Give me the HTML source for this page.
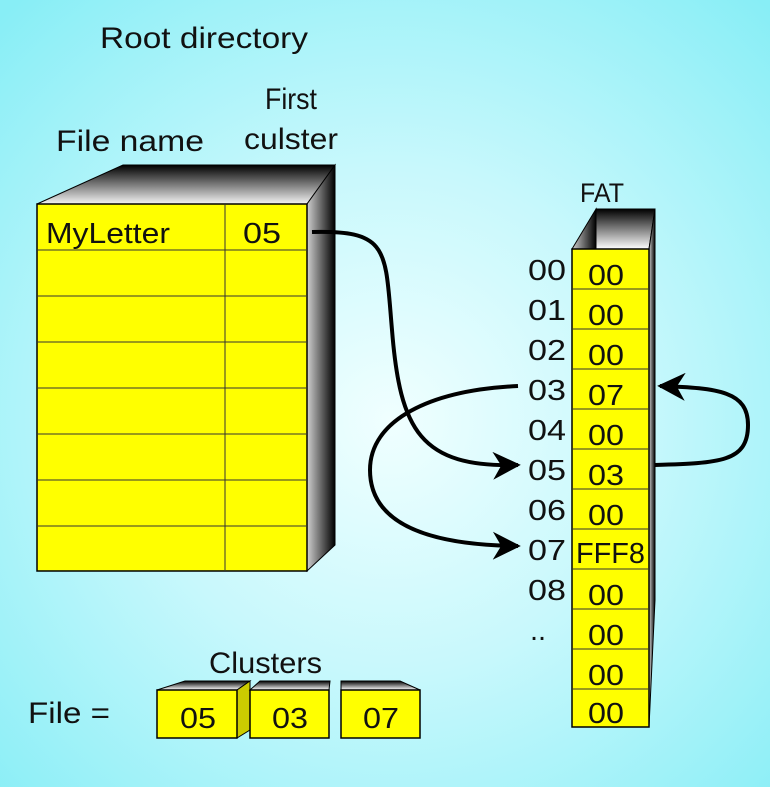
<!DOCTYPE html>
<html><head><style>
html,body{margin:0;padding:0}
body{width:770px;height:787px;overflow:hidden;background:radial-gradient(ellipse 560px 560px at 390px 420px,#f0ffff 0%,#c8f8fc 45%,#88eef6 100%);}
svg{display:block}
text{font-family:"Liberation Sans",sans-serif;fill:#111}
</style></head><body>
<svg width="770" height="787" viewBox="0 0 770 787">
<defs>
<linearGradient id="top" x1="0" y1="1" x2="0" y2="0"><stop offset="0" stop-color="#f4f4f4"/><stop offset="1" stop-color="#000"/></linearGradient>
<linearGradient id="side" x1="0" y1="0" x2="1" y2="0"><stop offset="0" stop-color="#cfcfcf"/><stop offset="1" stop-color="#000"/></linearGradient>
<linearGradient id="ftop" x1="0" y1="1" x2="0" y2="0"><stop offset="0" stop-color="#fff"/><stop offset="1" stop-color="#000"/></linearGradient>
<marker id="ah" viewBox="0 0 10 10" refX="9" refY="5" markerWidth="7" markerHeight="7" orient="auto"><path d="M0,0 L10,5 L0,10 L3,5z" fill="#000"/></marker>
</defs>
<text x="100" y="48" font-size="30" textLength="208" lengthAdjust="spacingAndGlyphs">Root directory</text>
<text x="56" y="151" font-size="30" textLength="148" lengthAdjust="spacingAndGlyphs">File name</text>
<text x="265" y="109" font-size="30" textLength="52" lengthAdjust="spacingAndGlyphs">First</text>
<text x="244" y="149" font-size="30" textLength="94" lengthAdjust="spacingAndGlyphs">culster</text>
<!-- root table -->
<polygon points="37,204 123,165 335,165 307,204" fill="url(#top)" stroke="#000" stroke-width="1"/>
<polygon points="307,204 335,165 335,545 307,571" fill="url(#side)" stroke="#000" stroke-width="1"/>
<rect x="37" y="204" width="270" height="367" fill="#ffff00" stroke="#000" stroke-width="1.5"/>
<g stroke="#333" stroke-width="1">
<line x1="37" y1="250" x2="307" y2="250"/><line x1="37" y1="296" x2="307" y2="296"/><line x1="37" y1="342" x2="307" y2="342"/><line x1="37" y1="388" x2="307" y2="388"/><line x1="37" y1="434" x2="307" y2="434"/><line x1="37" y1="480" x2="307" y2="480"/><line x1="37" y1="526" x2="307" y2="526"/>
<line x1="225" y1="204" x2="225" y2="571"/></g>
<text x="46" y="243" font-size="29" textLength="124" lengthAdjust="spacingAndGlyphs">MyLetter</text>
<text x="243" y="243" font-size="29" textLength="38" lengthAdjust="spacingAndGlyphs">05</text>
<!-- FAT -->
<text x="580" y="202" font-size="27" textLength="44" lengthAdjust="spacingAndGlyphs">FAT</text>
<polygon points="572,249 596,209 596,249" fill="url(#side)" stroke="#000"/>
<polygon points="596,209 655,209 649,249 596,249" fill="url(#ftop)" stroke="#000"/>
<polygon points="649,249 655,209 655,600 649,727" fill="url(#side)" stroke="#000"/>
<rect x="572" y="249" width="77" height="478" fill="#ffff00" stroke="#000" stroke-width="1.5"/>
<g stroke="#333" stroke-width="1">
<line x1="572" y1="289" x2="649" y2="289"/><line x1="572" y1="329" x2="649" y2="329"/><line x1="572" y1="369" x2="649" y2="369"/><line x1="572" y1="409" x2="649" y2="409"/><line x1="572" y1="449" x2="649" y2="449"/><line x1="572" y1="489" x2="649" y2="489"/><line x1="572" y1="529" x2="649" y2="529"/><line x1="572" y1="569" x2="649" y2="569"/><line x1="572" y1="609" x2="649" y2="609"/><line x1="572" y1="649" x2="649" y2="649"/><line x1="572" y1="689" x2="649" y2="689"/></g>
<g font-size="29" lengthAdjust="spacingAndGlyphs">
<text x="528" y="280" textLength="38" lengthAdjust="spacingAndGlyphs">00</text><text x="528" y="320" textLength="38" lengthAdjust="spacingAndGlyphs">01</text><text x="528" y="360" textLength="38" lengthAdjust="spacingAndGlyphs">02</text><text x="528" y="400" textLength="38" lengthAdjust="spacingAndGlyphs">03</text><text x="528" y="440" textLength="38" lengthAdjust="spacingAndGlyphs">04</text><text x="528" y="480" textLength="38" lengthAdjust="spacingAndGlyphs">05</text><text x="528" y="520" textLength="38" lengthAdjust="spacingAndGlyphs">06</text><text x="528" y="560" textLength="38" lengthAdjust="spacingAndGlyphs">07</text><text x="528" y="600" textLength="38" lengthAdjust="spacingAndGlyphs">08</text><text x="530" y="640">..</text>
<text x="588" y="285" textLength="36" lengthAdjust="spacingAndGlyphs">00</text><text x="588" y="325" textLength="36" lengthAdjust="spacingAndGlyphs">00</text><text x="588" y="365" textLength="36" lengthAdjust="spacingAndGlyphs">00</text><text x="588" y="405" textLength="36" lengthAdjust="spacingAndGlyphs">07</text><text x="588" y="445" textLength="36" lengthAdjust="spacingAndGlyphs">00</text><text x="588" y="485" textLength="36" lengthAdjust="spacingAndGlyphs">03</text><text x="588" y="525" textLength="36" lengthAdjust="spacingAndGlyphs">00</text><text x="576" y="563" textLength="69" lengthAdjust="spacingAndGlyphs">FFF8</text><text x="588" y="605" textLength="36" lengthAdjust="spacingAndGlyphs">00</text><text x="588" y="645" textLength="36" lengthAdjust="spacingAndGlyphs">00</text><text x="588" y="685" textLength="36" lengthAdjust="spacingAndGlyphs">00</text><text x="588" y="723" textLength="36" lengthAdjust="spacingAndGlyphs">00</text>
</g>
<!-- arrows -->
<g fill="none" stroke="#000" stroke-width="4">
<path d="M312,232 C390,230 385,250 392,330 C400,430 420,468 518,465" marker-end="url(#ah)"/>
<path d="M518,386 C430,390 370,420 370,470 C370,520 420,545 518,546" marker-end="url(#ah)"/>
<path d="M655,465 C720,463 748,462 748,425 C748,392 720,388 660,386" marker-end="url(#ah)"/>
</g>
<!-- clusters -->
<text x="209" y="673" font-size="30" textLength="113" lengthAdjust="spacingAndGlyphs">Clusters</text>
<text x="28" y="723" font-size="30" textLength="82" lengthAdjust="spacingAndGlyphs">File =</text>
<polygon points="157,690 185,681 250,681 237,690" fill="url(#ftop)" stroke="#000"/>
<polygon points="237,690 250,681 250,730 237,738" fill="#cccc00" stroke="#000"/>
<rect x="157" y="690" width="80" height="48" fill="#ffff00" stroke="#000" stroke-width="1.5"/>
<polygon points="250,690 260,681 330,681 329,690" fill="url(#ftop)" stroke="#000"/>
<rect x="250" y="690" width="79" height="48" fill="#ffff00" stroke="#000" stroke-width="1.5"/>
<polygon points="341,690 341,681 400,681 420,690" fill="url(#ftop)" stroke="#000"/>
<rect x="341" y="690" width="79" height="48" fill="#ffff00" stroke="#000" stroke-width="1.5"/>
<g font-size="29"><text x="180" y="728" textLength="36" lengthAdjust="spacingAndGlyphs">05</text><text x="272" y="728" textLength="36" lengthAdjust="spacingAndGlyphs">03</text><text x="363" y="728" textLength="36" lengthAdjust="spacingAndGlyphs">07</text></g>
</svg>
</body></html>
